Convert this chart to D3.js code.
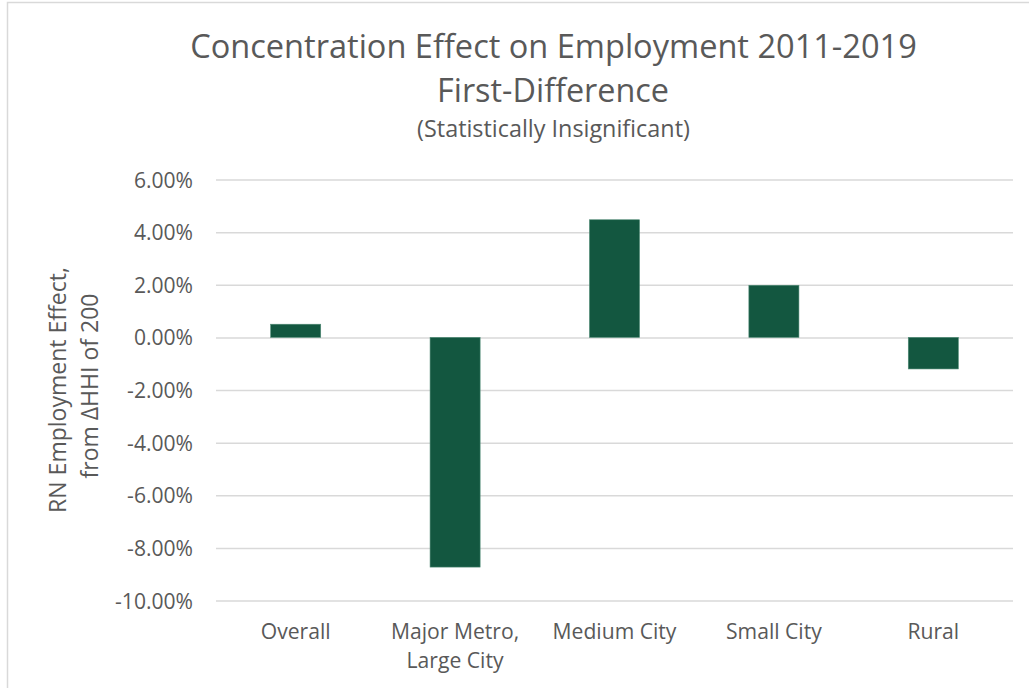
<!DOCTYPE html>
<html>
<head>
<meta charset="utf-8">
<script src="https://cdn.jsdelivr.net/npm/d3@7"></script>
<style>
  body { margin: 0; background: #fff; }
  svg { display: block; font-family: "Open Sans", sans-serif; }
</style>
</head>
<body>
<svg id="chart" width="1029" height="688"></svg>
<script>
// data
var categories = ['Overall', 'Major Metro,\nLarge City', 'Medium City', 'Small City', 'Rural'];
var effects = [0.5, -8.73, 4.47, 1.98, -1.2];   // percent
var yTicks = [-10, -8, -6, -4, -2, 0, 2, 4, 6];

var textColor = '#595959';
var barColor = '#135740';
var gridColor = '#d9d9d9';

var svg = d3.select('#chart');

// chart frame
svg.append('rect')
    .attr('x', 7.5).attr('y', 2.5)
    .attr('width', 1100).attr('height', 800)
    .attr('fill', 'none')
    .attr('stroke', gridColor)
    .attr('stroke-width', 1.5);

// scales
var x = d3.scaleBand()
    .domain(categories)
    .range([216, 1013])
    .paddingInner(0.686)
    .paddingOuter(0.343);
var y = d3.scaleLinear()
    .domain([-10, 6])
    .range([600.5, 179.5]);

// font size that makes a text node span a target width
function fitSize(node, target) {
    var fs = parseFloat(d3.select(node).style('font-size'));
    return fs * target / node.getComputedTextLength();
}
function fitText(sel, target) {
    sel.style('font-size', fitSize(sel.node(), target) + 'px');
}

// titles
var t1 = svg.append('text')
    .attr('x', 553.5).attr('y', 58)
    .attr('text-anchor', 'middle')
    .attr('fill', textColor)
    .style('font-size', '30px')
    .text('Concentration Effect on Employment 2011-2019');
fitText(t1, 727);
var t2 = svg.append('text')
    .attr('x', 553).attr('y', 102)
    .attr('text-anchor', 'middle')
    .attr('fill', textColor)
    .style('font-size', '30px')
    .text('First-Difference');
fitText(t2, 232);
var t3 = svg.append('text')
    .attr('x', 553.5).attr('y', 137)
    .attr('text-anchor', 'middle')
    .attr('fill', textColor)
    .style('font-size', '18px')
    .text('(Statistically Insignificant)');
fitText(t3, 273);

// gridlines + y labels
var yAxis = svg.append('g')
    .attr('transform', 'translate(216,0)')
    .call(d3.axisLeft(y)
        .tickValues(yTicks)
        .tickSize(-(1013 - 216))
        .tickPadding(23)
        .tickFormat(d => d3.format('.2f')(d).replace('\u2212', '-') + '%'));
yAxis.select('.domain').remove();
yAxis.selectAll('.tick line')
    .attr('stroke', gridColor)
    .attr('stroke-width', 1.5);
var tickText = yAxis.selectAll('.tick text')
    .attr('fill', textColor)
    .attr('dy', '0.36em')
    .style('font-family', '"Open Sans", sans-serif')
    .style('font-size', '18px');
var tickSize = fitSize(tickText.nodes()[0], 78);
tickText.style('font-size', tickSize + 'px');

// bars
svg.append('g')
    .selectAll('rect')
    .data(effects).enter()
    .append('rect')
        .attr('x', (d, i) => x(categories[i]))
        .attr('y', d => y(Math.max(0, d)))
        .attr('width', x.bandwidth())
        .attr('height', d => Math.abs(y(d) - y(0)))
        .attr('fill', barColor)
        .attr('stroke', '#4f8a75')
        .attr('stroke-width', 0.6);

// x labels
var xLabels = svg.append('g')
    .selectAll('text')
    .data(categories).enter()
    .append('text')
        .attr('x', d => x(d) + x.bandwidth() / 2)
        .attr('y', 639)
        .attr('text-anchor', 'middle')
        .attr('fill', textColor)
        .style('font-size', '18px');
xLabels.each(function(d) {
    var lines = d.split('\n');
    var el = d3.select(this);
    lines.forEach((l, i) => {
        el.append('tspan')
            .attr('x', el.attr('x'))
            .attr('dy', i === 0 ? 0 : 29)
            .text(l);
    });
});
var xSize = fitSize(xLabels.nodes()[2], 124);
xLabels.style('font-size', xSize + 'px');

// y axis title
var yTitle = svg.append('text')
    .attr('transform', 'rotate(-90)')
    .attr('text-anchor', 'middle')
    .attr('fill', textColor)
    .style('font-size', '18px');
var yt1 = yTitle.append('tspan')
    .attr('x', -390).attr('y', 66)
    .text('RN Employment Effect,');
yTitle.append('tspan')
    .attr('x', -386).attr('y', 98)
    .text('from \u0394HHI of 200');
var ySize = fitSize(yt1.node(), 246);
yTitle.style('font-size', ySize + 'px');
</script>
</body>
</html>
